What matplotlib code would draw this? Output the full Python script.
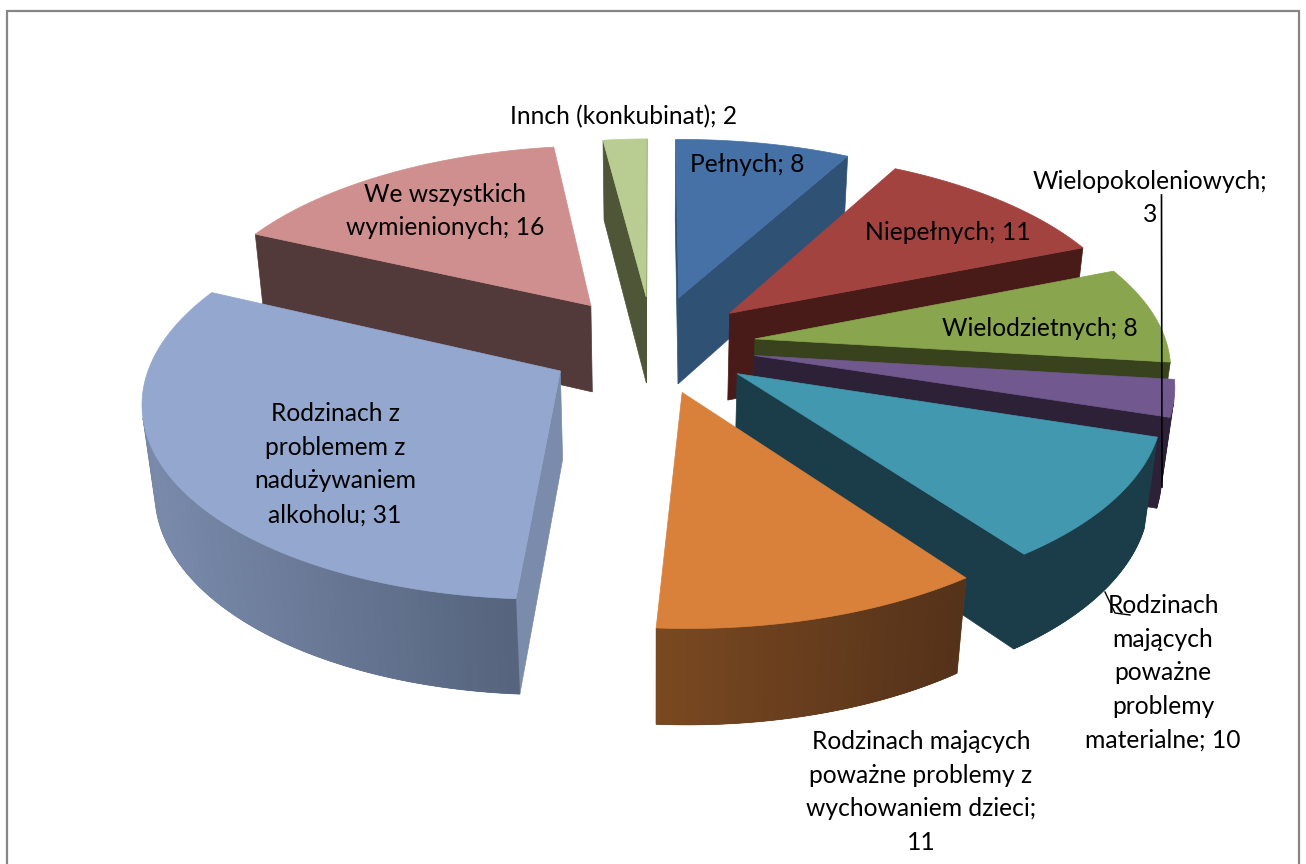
import numpy as np
import matplotlib
matplotlib.use('Agg')
import matplotlib.pyplot as plt
from matplotlib.patches import Polygon

# ---- data -------------------------------------------------------------
categories = ['Pełnych', 'Niepełnych', 'Wielodzietnych', 'Wielopokoleniowych',
              'Rodzinach mających poważne problemy materialne',
              'Rodzinach mających poważne problemy z wychowaniem dzieci',
              'Rodzinach z problemem z nadużywaniem alkoholu',
              'We wszystkich wymienionych', 'Innch (konkubinat)']
values = [8, 11, 8, 3, 10, 11, 31, 16, 2]
labels = ['Pełnych; 8', 'Niepełnych; 11', 'Wielodzietnych; 8', 'Wielopokoleniowych;\n3',
          'Rodzinach\nmających\npoważne\nproblemy\nmaterialne; 10',
          'Rodzinach mających\npoważne problemy z\nwychowaniem dzieci;\n11',
          'Rodzinach z\nproblemem z\nnadużywaniem\nalkoholu; 31',
          'We wszystkich\nwymienionych; 16', 'Innch (konkubinat); 2']

# ---- style ------------------------------------------------------------
explode = [.2648, .2564, .2531, .2525, .2502, .2499, .2585, .2650, .2620]
top_col = ['#4671a7', '#a34340', '#89a54e', '#71588f', '#4198af', '#d9813b', '#93a7cf', '#cf8f8e', '#b9cd92']
side_col = ['#2f5274', '#481b18', '#38421c', '#2d2138', '#1b3d49', '#7a4921', '#7a8bac', '#52393a', '#4f5637']
rim_dark = ['#2f5274', '#481b18', '#38421c', '#2d2138', '#1b3d49', '#55321a', '#56647d', '#52393a', '#4f5637']
label_pos = [(747, 165), (948, 232), (1040, 329), (1150, 198), (1163, 673),
             (921, 792), (335, 464), (445, 211), (624, 117)]
paint_order = [8, 0, 7, 1, 2, 3, 4, 5, 6]

CX, CY, AX, BY, KY, KX, T0, SHEAR = 652.7, 345.2, 408.5, 190.9, .1325, -.00586, -.0055, 2.2
DEPTH, KZ = 90.0, .025


def proj(x, y, z=0.0):
    w = 1 + KY * y + KX * x + KZ * z
    return CX + (AX * x + SHEAR * y) / w, CY - (BY * y - DEPTH * z) / w


def mix(c1, c2, t):
    a, b = np.array(matplotlib.colors.to_rgb(c1)), np.array(matplotlib.colors.to_rgb(c2))
    return tuple(a + (b - a) * t)


def area(poly):
    p = np.array(poly)
    x, y = p[:, 0], p[:, 1]
    return np.sum(x * np.roll(y, -1) - np.roll(x, -1) * y)


fig = plt.figure(figsize=(13.06, 8.64), dpi=100, facecolor='white')
ax = fig.add_axes([0, 0, 1, 1])
ax.set_xlim(0, 1306)
ax.set_ylim(864, 0)
ax.axis('off')


def face(poly, col, z, lw=0.5):
    ax.add_patch(Polygon(poly, closed=True, facecolor=col, edgecolor=col, lw=lw, zorder=z))


edges = np.concatenate([[0], np.cumsum(values)]) / np.sum(values) * 2 * np.pi + T0
for order, i in enumerate(paint_order):
    a, b = edges[i], edges[i + 1]
    m = (a + b) / 2
    ox, oy = explode[i] * np.sin(m), explode[i] * np.cos(m)
    th = np.linspace(a, b, max(int(np.degrees(b - a)) * 2, 6))
    rx, ry = ox + np.sin(th), oy + np.cos(th)
    ap_t, ap_b = proj(ox, oy, 0), proj(ox, oy, 1)
    top = list(zip(*proj(rx, ry, 0)))
    bot = list(zip(*proj(rx, ry, 1)))
    z = 2 + order
    # radial faces
    fs = [ap_t, top[0], bot[0], ap_b]
    if area(fs) < 0:
        face(fs, side_col[i], z)
    fe = [ap_t, top[-1], bot[-1], ap_b]
    if area(fe) > 0:
        face(fe, side_col[i], z)
    # rim, shaded from left to right; overlapping bands painted downwards hide the seams
    xs = np.array([p[0] for p in top])
    front = [k for k in range(len(th) - 1)
             if area([top[k], top[k + 1], bot[k + 1], bot[k]]) < 0]
    if front:
        lo, hi = xs[front].min(), xs[front].max()
        f0, f1 = front[0], front[-1] + 1
        face(top[f0:f1 + 1] + bot[f0:f1 + 1][::-1], mix(side_col[i], rim_dark[i], .5), z)
        for k in reversed(front):
            e = min(k + 2, f1)
            band = top[k:e + 1] + bot[k:e + 1][::-1]
            t = (xs[k] - lo) / max(hi - lo, 1)
            ax.add_patch(Polygon(band, closed=True, facecolor=mix(side_col[i], rim_dark[i], t),
                                 edgecolor='none', lw=0, zorder=z))
    face([ap_t] + top, top_col[i], z)

# frame
frame_x = [7, 7, 1299, 1299]
frame_y = [864, 11, 11, 864]
ax.plot(frame_x, frame_y, color='#868686', lw=1.6, zorder=1, solid_joinstyle='miter')

# leader lines
ax.plot([1161.5, 1162], [195, 487], color='black', lw=1.2, zorder=30)
ax.plot([1105, 1115, 1130], [592, 613, 615], color='black', lw=1.0, zorder=30)

# labels
for s, (x, y) in zip(labels, label_pos):
    ax.text(x, y, s, ha='center', va='center', fontsize=17.7, family='Lato', color='black',
            linespacing=1.565, zorder=40)

fig.savefig('out.png', dpi=100)
